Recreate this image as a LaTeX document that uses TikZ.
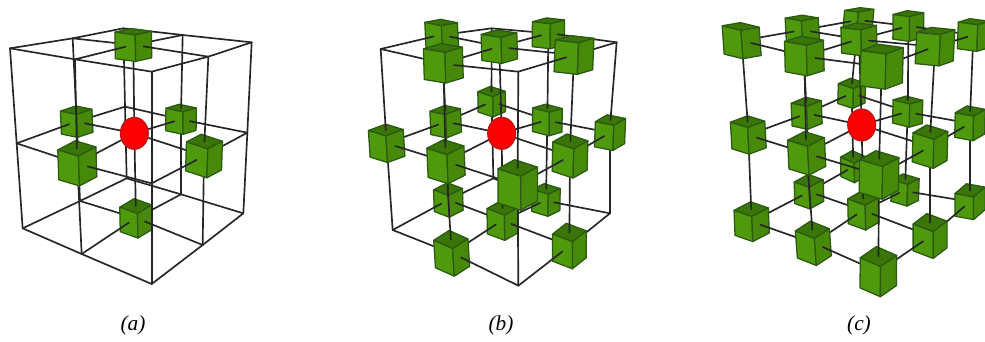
\documentclass[tikz,border=0pt]{standalone}
\usepackage{fontspec}
\setmainfont{Liberation Serif}
\usetikzlibrary{calc,shapes.geometric}
\tikzset{
  bar/.style={draw=black!85,line width=1.25pt,line cap=round},
  facetop/.style={fill=cubetop,draw=cubeedge,line width=0.95pt,line join=round},
  faceleft/.style={fill=cubeleft,draw=cubeedge,line width=0.95pt,line join=round},
  faceright/.style={fill=cuberight,draw=cubeedge,line width=0.95pt,line join=round},
  ball/.style={ellipse,fill=ballred,draw=ballrim,line width=0.8pt,inner sep=0pt,minimum width=21pt,minimum height=24pt},
  caption/.style={font=\itshape\fontsize{16}{18}\selectfont,inner sep=0pt}
}
\definecolor{cubetop}{HTML}{3A7508}
\definecolor{cubeleft}{HTML}{4F9A0C}
\definecolor{cuberight}{HTML}{478A0A}
\definecolor{cubeedge}{HTML}{2B5A10}
\definecolor{ballred}{HTML}{FA0000}
\definecolor{ballrim}{HTML}{B81818}
\newcommand\lvl[2]{\foreach \uu/\vv/\xx/\yy in {#2}{\coordinate (\pfx-\uu-\vv-#1) at ({\ox+\xx/3},{\yy/3});}}
\newcommand\cv[3]{($(pp)#1\cs*(eu)#2\cs*(ev)#3\cs*(ew)$)}
\newcommand\clampup[1]{\ifnum#1=2 2\else\the\numexpr#1+1\relax\fi}
\newcommand\clampdn[1]{\ifnum#1=0 0\else\the\numexpr#1-1\relax\fi}
\newcommand\latticecell[5]{%
  \coordinate (pp) at (#1-#3-#4-#5);
  \pgfmathsetmacro\cs{0.132+0.003*(2*#3+2*#4+#5)}%
  \edef\ones{\the\numexpr\ifnum#3=1 1\else0\fi+\ifnum#4=1 1\else0\fi+\ifnum#5=1 1\else0\fi\relax}%
  \edef\hu{\clampup{#3}}\edef\lu{\clampdn{#3}}%
  \edef\hv{\clampup{#4}}\edef\lv{\clampdn{#4}}%
  \edef\hw{\clampup{#5}}\edef\lw{\clampdn{#5}}%
  \edef\fu{\ifnum#3=1 0.5\else1\fi}\edef\fv{\ifnum#4=1 0.5\else1\fi}\edef\fw{\ifnum#5=1 0.5\else1\fi}%
  \coordinate (eu) at ($\fu*(#1-\hu-#4-#5)-\fu*(#1-\lu-#4-#5)$);
  \coordinate (ev) at ($\fv*(#1-#3-\hv-#5)-\fv*(#1-#3-\lv-#5)$);
  \coordinate (ew) at ($\fw*(#1-#3-#4-\hw)-\fw*(#1-#3-#4-\lw)$);
  \def\st{0}%
  \ifnum\ones=3\relax\else\ifnum\ones<#2\relax\else
    \let\st\cs
    \path[facetop] \cv+++ -- \cv+-+ -- \cv--+ -- \cv-++ -- cycle;
    \path[faceleft] \cv+++ -- \cv+-+ -- \cv+-- -- \cv++- -- cycle;
    \path[faceright] \cv+++ -- \cv-++ -- \cv-+- -- \cv++- -- cycle;
  \fi\fi
  \ifnum#3<2 \draw[bar] ($(pp)+\st*(eu)$) -- (#1-\the\numexpr#3+1\relax-#4-#5);\fi
  \ifnum#4<2 \draw[bar] ($(pp)+\st*(ev)$) -- (#1-#3-\the\numexpr#4+1\relax-#5);\fi
  \ifnum#5<2 \draw[bar] ($(pp)+\st*(ew)$) -- (#1-#3-#4-\the\numexpr#5+1\relax);\fi
  \ifnum\ones=3\relax \node[ball] (#1-ball) at (#1-#3-#4-#5) {};\fi
}
\newcommand\latticepanel[2]{%
  \foreach \dd in {0,...,10}{\foreach \uc in {0,1,2}{\foreach \vc in {0,1,2}{\foreach \wc in {0,1,2}{%
    \ifnum\numexpr2*\uc+2*\vc+\wc\relax=\dd\relax
      \latticecell{#1}{#2}{\uc}{\vc}{\wc}%
    \fi}}}}%
}
\begin{document}
\begin{tikzpicture}[x=0.75pt,y=-0.75pt]
\useasboundingbox (0,0) rectangle (985,342);
% panel a
\def\pfx{a}\def\ox{0}
\lvl{2}{0/0/370/85,1/0/218/115,2/0/30/145,0/1/548/105,1/1/400/135,2/1/225/178,0/2/755/127,1/2/625/170,2/2/455/215}
\lvl{1}{0/0/375/320,1/0/230/365,2/0/50/430,0/1/543/358,1/1/403/400,2/1/232/490,0/2/742/398,1/2/612/468,2/2/455/550}
\lvl{0}{0/0/380/535,1/0/240/603,2/0/68/685,0/1/543/583,1/1/408/655,2/1/245/762,0/2/730/640,1/2/608/735,2/2/455/852}
\latticepanel{a}{2}
% panel b
\def\pfx{b}\def\ox{350}
\lvl{2}{0/0/425/85,1/0/275/105,2/0/92/147,0/1/595/100,1/1/448/140,2/1/280/190,0/2/800/127,1/2/672/165,2/2/505/215}
\lvl{1}{0/0/425/305,1/0/287/365,2/0/110/430,0/1/592/360,1/1/455/400,2/1/288/485,0/2/780/398,1/2/660/468,2/2/503/555}
\lvl{0}{0/0/430/535,1/0/295/600,2/0/128/690,0/1/588/600,1/1/458/662,2/1/305/760,0/2/780/640,1/2/658/738,2/2/505/857}
\latticepanel{b}{1}
% panel c
\def\pfx{c}\def\ox{705}
\lvl{2}{0/0/460/60,1/0/292/90,2/0/110/122,0/1/610/78,1/1/462/118,2/1/298/168,0/2/805/105,1/2/690/140,2/2/530/200}
\lvl{1}{0/0/440/280,1/0/305/340,2/0/130/405,0/1/608/335,1/1/470/375,2/1/305/460,0/2/795/370,1/2/675/440,2/2/522/525}
\lvl{0}{0/0/445/500,1/0/312/575,2/0/140/665,0/1/600/570,1/1/475/632,2/1/325/730,0/2/795/605,1/2/675/708,2/2/520/815}
\latticepanel{c}{0}
\node[caption] (capa) at (133,325) {(a)};
\node[caption] (capb) at (501,325) {(b)};
\node[caption] (capc) at (859,325) {(c)};
\end{tikzpicture}
\end{document}
